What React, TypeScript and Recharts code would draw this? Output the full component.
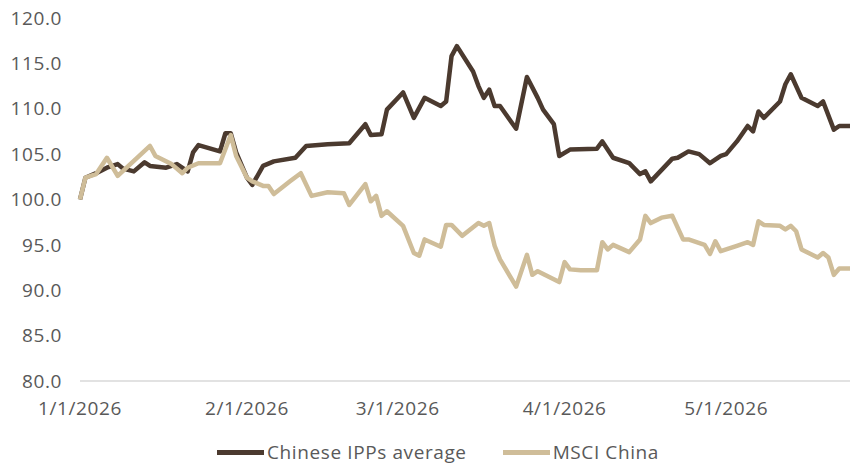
import { LineChart, Line, XAxis, YAxis } from "recharts";

// days counted from 1/1/2026
const ippDays = [0, 1, 3, 5, 7, 8, 10, 12, 13, 16, 18, 20, 21, 22, 26, 27, 28, 29, 31, 32, 34, 36, 40, 42, 46, 50, 53, 54, 56, 57, 60, 62, 64, 67, 68, 69, 70, 73, 74, 75, 76, 77, 78, 81, 83, 85, 86, 88, 89, 91, 96, 97, 99, 102, 104, 105, 106, 110, 111, 113, 115, 117, 119, 120, 122, 124, 125, 126, 127, 130, 131, 132, 134, 137, 138, 140, 141, 143];
const ippValues = [100, 102.4, 102.9, 103.5, 103.9, 103.4, 103.1, 104.1, 103.7, 103.5, 103.9, 103.1, 105.2, 106.0, 105.3, 107.3, 107.3, 105.2, 102.4, 101.6, 103.7, 104.2, 104.6, 105.9, 106.1, 106.2, 108.3, 107.1, 107.2, 109.9, 111.8, 109.0, 111.2, 110.3, 110.8, 115.8, 116.9, 114.1, 112.5, 111.2, 112.1, 110.3, 110.3, 107.8, 113.5, 111.2, 109.9, 108.3, 104.8, 105.5, 105.6, 106.4, 104.6, 104.0, 102.8, 103.1, 102.0, 104.5, 104.6, 105.3, 105.0, 104.0, 104.8, 105.0, 106.4, 108.1, 107.5, 109.7, 109.0, 110.8, 112.7, 113.8, 111.2, 110.3, 110.8, 107.7, 108.1, 108.1];

const msciDays = [0, 1, 3, 5, 7, 9, 13, 14, 17, 19, 20, 22, 26, 28, 29, 31, 32, 34, 35, 36, 39, 41, 43, 46, 49, 50, 53, 54, 55, 56, 57, 60, 62, 63, 64, 67, 68, 69, 71, 74, 75, 76, 77, 78, 81, 83, 84, 85, 89, 90, 91, 93, 96, 97, 98, 99, 102, 104, 105, 106, 108, 110, 112, 113, 116, 117, 118, 119, 122, 124, 125, 126, 127, 130, 131, 132, 133, 134, 137, 138, 139, 140, 141, 143];
const msciValues = [100, 102.4, 102.8, 104.6, 102.6, 103.7, 105.9, 104.8, 103.9, 102.9, 103.5, 104.0, 104.0, 107.1, 104.8, 102.4, 102.0, 101.5, 101.5, 100.6, 102.0, 102.9, 100.4, 100.8, 100.7, 99.4, 101.7, 99.8, 100.4, 98.2, 98.7, 97.1, 94.1, 93.8, 95.6, 94.8, 97.2, 97.2, 96.0, 97.4, 97.1, 97.4, 94.9, 93.4, 90.4, 93.9, 91.7, 92.1, 90.9, 93.1, 92.3, 92.2, 92.2, 95.3, 94.5, 95.0, 94.2, 95.6, 98.2, 97.4, 98.0, 98.2, 95.6, 95.6, 95.0, 94.0, 95.4, 94.3, 94.9, 95.3, 95.0, 97.6, 97.2, 97.1, 96.7, 97.1, 96.5, 94.5, 93.6, 94.1, 93.6, 91.7, 92.4, 92.4];

const xTicks = [0, 31, 59, 90, 120];
const xTickLabels = ["1/1/2026", "2/1/2026", "3/1/2026", "4/1/2026", "5/1/2026"];
const yTicks = [80, 85, 90, 95, 100, 105, 110, 115, 120];

const series = [
  { name: "Chinese IPPs average", color: "#4b3a2f", days: ippDays, values: ippValues },
  { name: "MSCI China", color: "#cfbd99", days: msciDays, values: msciValues },
];

const font = "'Open Sans', sans-serif";
const textColor = "#595959";
const tickStyle = { fill: textColor, fontSize: 19, fontFamily: font, letterSpacing: 0.6 };

export default function App() {
  return (
    <div style={{ position: "absolute", left: 0, top: 0, width: 850, height: 468, fontFamily: font, background: "#fff" }}>
      <LineChart width={850} height={468} margin={{ top: 18, right: 0, left: 0, bottom: 30 }}>
        <XAxis
          dataKey="day"
          type="number"
          domain={[0, 143]}
          ticks={xTicks}
          tickFormatter={(v: number) => xTickLabels[xTicks.indexOf(v)] ?? ""}
          axisLine={{ stroke: "#d9d9d9", strokeWidth: 1.5 }}
          tickLine={false}
          tickSize={0}
          tickMargin={21}
          height={57}
          tick={tickStyle}
          interval={0}
          allowDuplicatedCategory={false}
        />
        <YAxis
          domain={[80, 120]}
          ticks={yTicks}
          tickFormatter={(v: number) => v.toFixed(1)}
          axisLine={false}
          tickLine={false}
          tickSize={0}
          tickMargin={18}
          width={80}
          tick={tickStyle}
          interval={0}
        />
        {series.map((s) => (
          <Line
            key={s.name}
            data={s.days.map((d, i) => ({ day: d, value: s.values[i] }))}
            dataKey="value"
            name={s.name}
            stroke={s.color}
            strokeWidth={4.5}
            strokeLinejoin="round"
            dot={false}
            activeDot={false}
            isAnimationActive={false}
          />
        ))}
      </LineChart>
      <div
        style={{
          position: "absolute",
          top: 439,
          left: 13,
          width: 850,
          display: "flex",
          justifyContent: "center",
          gap: 36,
          fontSize: 19,
          letterSpacing: 0.6,
          color: textColor,
        }}
      >
        {series.map((s) => (
          <div key={s.name} style={{ display: "flex", alignItems: "center" }}>
            <span style={{ display: "inline-block", width: 47, height: 5, background: s.color, marginRight: 3 }} />
            <span>{s.name}</span>
          </div>
        ))}
      </div>
    </div>
  );
}
